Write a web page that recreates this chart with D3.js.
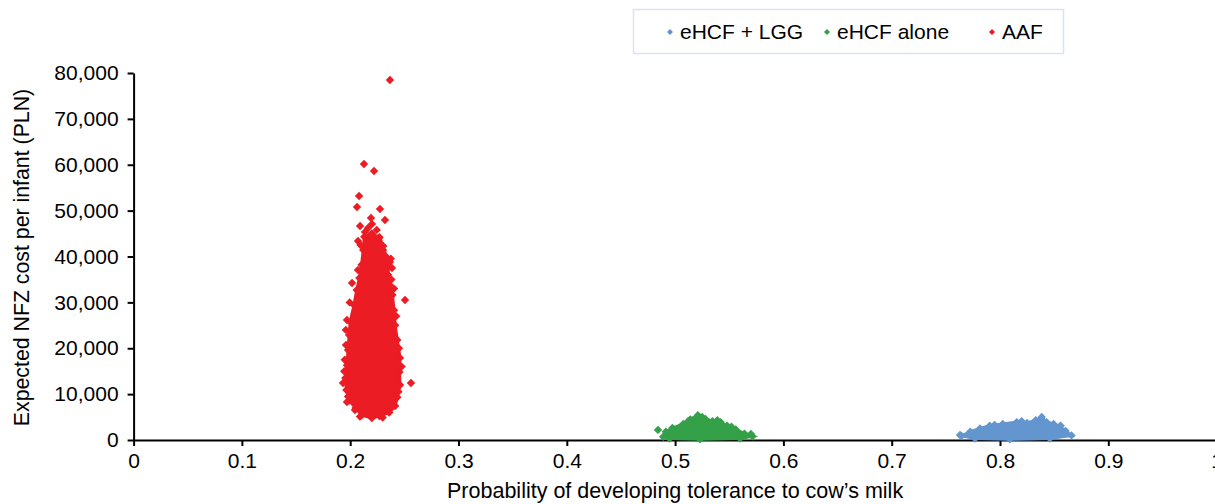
<!DOCTYPE html>
<html>
<head>
<meta charset="utf-8">
<script src="https://cdn.jsdelivr.net/npm/d3@7"></script>
<style>
  body { margin: 0; background: #fff; }
  svg { display: block; font-family: "Liberation Sans", Arial, sans-serif; }
</style>
</head>
<body>
<svg id="chart" width="1215" height="504"></svg>
<script>
// axis ticks
const xTickValues = [0, 0.1, 0.2, 0.3, 0.4, 0.5, 0.6, 0.7, 0.8, 0.9, 1];
const yTickValues = [0, 10000, 20000, 30000, 40000, 50000, 60000, 70000, 80000];

const seriesNames = ['eHCF + LGG', 'eHCF alone', 'AAF'];

// outline of the dense part of each cloud, [probability, cost]
const lggOutline = [
  [0.7645, 900], [0.7725, 1800], [0.7815, 2500], [0.7905, 3100], [0.8025, 3500],
  [0.8155, 3900], [0.8250, 3700], [0.8330, 4300], [0.8385, 5000], [0.8430, 3900],
  [0.8495, 3500], [0.8550, 2900], [0.8605, 2000], [0.8660, 1000], [0.8460, 300],
  [0.8090, 150], [0.7770, 300]
];
const aloneOutline = [
  [0.4890, 700], [0.4915, 1800], [0.4975, 2600], [0.5075, 3500], [0.5140, 4500],
  [0.5210, 5400], [0.5280, 4600], [0.5345, 4100], [0.5420, 3900], [0.5480, 3100],
  [0.5560, 2300], [0.5640, 1400], [0.5715, 800], [0.5600, 300], [0.5230, 150],
  [0.4950, 300]
];
const aafOutline = [
  [0.2130, 44300], [0.2200, 45000], [0.2270, 44200], [0.2305, 42300], [0.2330, 40000],
  [0.2355, 38000], [0.2350, 36000], [0.2365, 33800], [0.2390, 31600], [0.2405, 28300],
  [0.2415, 25000], [0.2435, 21800], [0.2460, 17900], [0.2455, 14800], [0.2460, 12000],
  [0.2435, 9300], [0.2415, 7400], [0.2360, 6000], [0.2270, 5200], [0.2200, 4800],
  [0.2105, 5400], [0.2050, 7000], [0.1990, 8600], [0.1965, 10900], [0.1955, 13500],
  [0.1970, 16300], [0.1980, 19600], [0.1990, 22900], [0.2000, 25700], [0.2035, 29400],
  [0.2060, 32700], [0.2085, 35300], [0.2105, 38200], [0.2120, 41400]
];

// stray simulation points around and outside the outlines
const lggStray = [[0.7631, 1100], [0.8380, 4200], [0.8200, 4100], [0.7950, 3300], [0.8560, 3100]];
const aloneStray = [[0.4842, 2200], [0.5700, 1300], [0.5120, 4100], [0.5250, 5000], [0.5390, 4300], [0.5520, 2900]];
const aafStray = [
  [0.2367, 78480], [0.2127, 60170], [0.2220, 58640], [0.2082, 53190], [0.2063, 50790],
  [0.2275, 50360], [0.2192, 48400], [0.2321, 47960], [0.2201, 47090], [0.2091, 46650],
  [0.2137, 45340], [0.2072, 43380], [0.2266, 44040], [0.2303, 41420], [0.2072, 37060],
  [0.2017, 34230], [0.2506, 30520], [0.1970, 26160], [0.1961, 20710], [0.1934, 12430],
  [0.2561, 12430], [0.1970, 8280], [0.2044, 6540], [0.2386, 37500], [0.2367, 38800],
  [0.1995, 30000], [0.1960, 24000], [0.1950, 17500], [0.1945, 15000], [0.1980, 9500],
  [0.2090, 5100], [0.2300, 4900], [0.2445, 10500], [0.2475, 16000], [0.2450, 20000],
  [0.2425, 27000], [0.2405, 33000], [0.2375, 39500], [0.2095, 42500], [0.2165, 46200],
  [0.2245, 45800], [0.2380, 35000], [0.2040, 27500]
];

const colors = { 'eHCF + LGG': '#6395cf', 'eHCF alone': '#34a047', 'AAF': '#ec1c24' };

const svg = d3.select('#chart');

let x = d3.scaleLinear().domain([0, 1]).range([133.6, 1216.6]);
let y = d3.scaleLinear().domain([0, 80000]).range([440, 73]);

// axes
let xAxis = d3.axisBottom(x).tickValues(xTickValues).tickFormat(d3.format('~g')).tickSize(6).tickSizeOuter(0).tickPadding(7);
let gx = svg.append('g').attr('transform', 'translate(0,440)').call(xAxis);

let yAxis = d3.axisLeft(y).tickValues(yTickValues).tickFormat(d3.format(',')).tickSize(6).tickSizeOuter(0).tickPadding(9);
let gy = svg.append('g').attr('transform', 'translate(133.6,0)').call(yAxis);

[gx, gy].forEach(g => {
  g.selectAll('path, line').attr('stroke', '#000').attr('stroke-width', 2);
  g.selectAll('text').attr('fill', '#000');
});
gx.selectAll('text').style('font-size', '21px');
gy.selectAll('text').style('font-size', '21px');

svg.append('text')
  .attr('x', x(0.5)).attr('y', 498)
  .attr('text-anchor', 'middle')
  .style('font-size', '21.5px')
  .text('Probability of developing tolerance to cow\u2019s milk');

svg.append('text')
  .attr('transform', 'translate(29,' + (y(40000) + 1) + ') rotate(-90)')
  .attr('text-anchor', 'middle')
  .style('font-size', '21.3px')
  .text('Expected NFZ cost per infant (PLN)');

// clouds
const diamond = r => `M0,${-r}L${r},0L0,${r}L${-r},0Z`;
let area = d3.line().x(d => x(d[0])).y(d => y(d[1])).curve(d3.curveLinearClosed);

let clouds = [
  { name: 'eHCF + LGG', outline: lggOutline, stray: lggStray },
  { name: 'eHCF alone', outline: aloneOutline, stray: aloneStray },
  { name: 'AAF', outline: aafOutline, stray: aafStray }
];

clouds.forEach(c => {
  let g = svg.append('g');
  g.append('path')
    .attr('d', area(c.outline))
    .attr('fill', colors[c.name])
    .attr('stroke', colors[c.name])
    .attr('stroke-width', 3);
  g.selectAll('path.pt')
    .data(c.outline.concat(c.stray))
    .join('path')
    .classed('pt', true)
    .attr('transform', d => `translate(${x(d[0])},${y(d[1])})`)
    .attr('d', diamond(4.2))
    .attr('fill', colors[c.name]);
});

// legend
let legend = svg.append('g');
legend.append('rect')
  .attr('x', 633.5).attr('y', 9.5).attr('width', 430).attr('height', 44)
  .attr('fill', '#fff').attr('stroke', '#d9e4f1').attr('stroke-width', 1.5);

let legendX = [670, 827, 992];
seriesNames.forEach((name, i) => {
  legend.append('path')
    .attr('transform', `translate(${legendX[i]},32)`)
    .attr('d', diamond(3))
    .attr('fill', colors[name]);
  legend.append('text')
    .attr('x', legendX[i] + 10).attr('y', 39)
    .style('font-size', '21px')
    .text(name);
});
</script>
</body>
</html>
